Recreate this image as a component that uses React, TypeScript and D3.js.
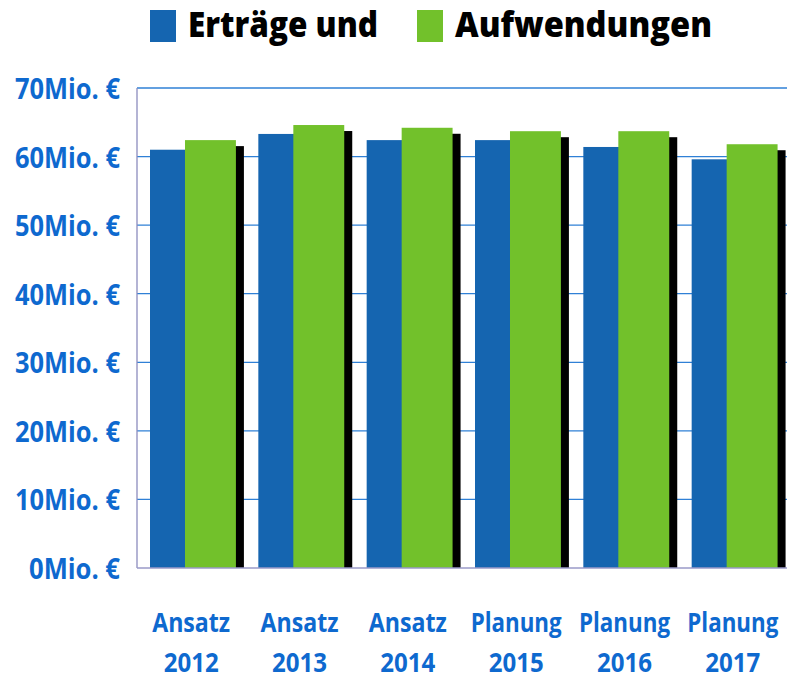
import React from "react";
import * as d3 from "d3";

const categories = ["Ansatz 2012", "Ansatz 2013", "Ansatz 2014", "Planung 2015", "Planung 2016", "Planung 2017"];
const ertraege = [61.0, 63.3, 62.4, 62.4, 61.4, 59.6];
const aufwendungen = [62.4, 64.6, 64.2, 63.7, 63.7, 61.8];
const yTicks = [0, 10, 20, 30, 40, 50, 60, 70];
const legendLabels = ["Erträge und", "Aufwendungen"];

const W = 787;
const H = 680;
const FONT = "'Open Sans', 'Noto Sans', sans-serif";
const BLUE = "#1565B0";
const GREEN = "#72C12B";
const LABEL = "#0E69CF";
const GRID = "#2F80D6";

// approximate rendered widths of the condensed reference font, per glyph class
const condensedWidth = (s: string, digit: number, letter: number) =>
  Array.from(s).reduce((acc, ch) => acc + (/[0-9]/.test(ch) ? digit : ch === " " ? 5 : ch === "." ? 7 : letter), 0);

export default function App() {
  const plotLeft = 137;
  const plotRight = 787;
  const plotTop = 88;
  const plotBottom = 568;

  const x = d3.scaleBand<string>().domain(categories).range([plotLeft, plotRight]).padding(0);
  const y = d3.scaleLinear().domain([0, 70]).range([plotBottom, plotTop]);

  const bw = x.bandwidth();
  const barW = bw * 0.47;
  const offBlue = bw * 0.12;
  const offGreen = bw * 0.443;
  const shX = 8;
  const shY = 6;

  const series = [
    { values: ertraege, color: BLUE, off: offBlue },
    { values: aufwendungen, color: GREEN, off: offGreen },
  ];

  return (
    <svg width={W} height={H} style={{ position: "absolute", left: 0, top: 0, background: "#fff" }}>
      <defs>
        <clipPath id="plotClip">
          <rect x={plotLeft} y={0} width={plotRight - plotLeft} height={plotBottom} />
        </clipPath>
      </defs>
      <rect x={0} y={0} width={W} height={H} fill="#fff" />
      {yTicks.slice(1).map((t) => (
        <line key={t} x1={plotLeft} x2={plotRight} y1={y(t)} y2={y(t)} stroke={GRID} strokeWidth={1.3} />
      ))}
      <g clipPath="url(#plotClip)">
        {series.map((s, si) =>
          categories.map((c, i) => {
            const bx = (x(c) as number) + s.off;
            const by = y(s.values[i]);
            return (
              <g key={`${si}-${i}`}>
                <rect x={bx + shX} y={by + shY} width={barW} height={plotBottom - by} fill="#000" />
                <rect x={bx} y={by} width={barW} height={plotBottom - by} fill={s.color} />
              </g>
            );
          })
        )}
      </g>
      <line x1={plotLeft} x2={plotLeft} y1={plotTop} y2={plotBottom} stroke="#8C8CBE" strokeWidth={1.3} />
      <line x1={plotLeft} x2={plotRight} y1={plotBottom} y2={plotBottom} stroke="#9A9AC8" strokeWidth={1.3} />
      {yTicks.map((t) => {
        const num = String(t);
        return (
          <text
            key={t}
            x={120}
            y={y(t) + 11}
            textAnchor="end"
            fontFamily={FONT}
            fontWeight="bold"
            fontSize={29}
            fill={LABEL}
            textLength={num.length * 14 + 77}
            lengthAdjust="spacingAndGlyphs"
          >
            {`${num}Mio. €`}
          </text>
        );
      })}
      {categories.map((c) => {
        const [l1, l2] = c.split(" ");
        const cx = (x(c) as number) + bw / 2;
        return (
          <g key={c}>
            <text
              x={cx}
              y={632}
              textAnchor="middle"
              fontFamily={FONT}
              fontWeight="bold"
              fontSize={26}
              fill={LABEL}
              textLength={condensedWidth(l1, 13.5, 13)}
              lengthAdjust="spacingAndGlyphs"
            >
              {l1}
            </text>
            <text
              x={cx}
              y={672}
              textAnchor="middle"
              fontFamily={FONT}
              fontWeight="bold"
              fontSize={26}
              fill={LABEL}
              textLength={55}
              lengthAdjust="spacingAndGlyphs"
            >
              {l2}
            </text>
          </g>
        );
      })}
      <rect x={150} y={10} width={26} height={32} fill={BLUE} />
      <text x={188} y={37} fontFamily={FONT} fontWeight={800} fontSize={36} fill="#000" textLength={190} lengthAdjust="spacingAndGlyphs">
        {legendLabels[0]}
      </text>
      <rect x={417} y={10} width={26} height={32} fill={GREEN} />
      <text x={455} y={37} fontFamily={FONT} fontWeight={800} fontSize={36} fill="#000" textLength={257} lengthAdjust="spacingAndGlyphs">
        {legendLabels[1]}
      </text>
    </svg>
  );
}
